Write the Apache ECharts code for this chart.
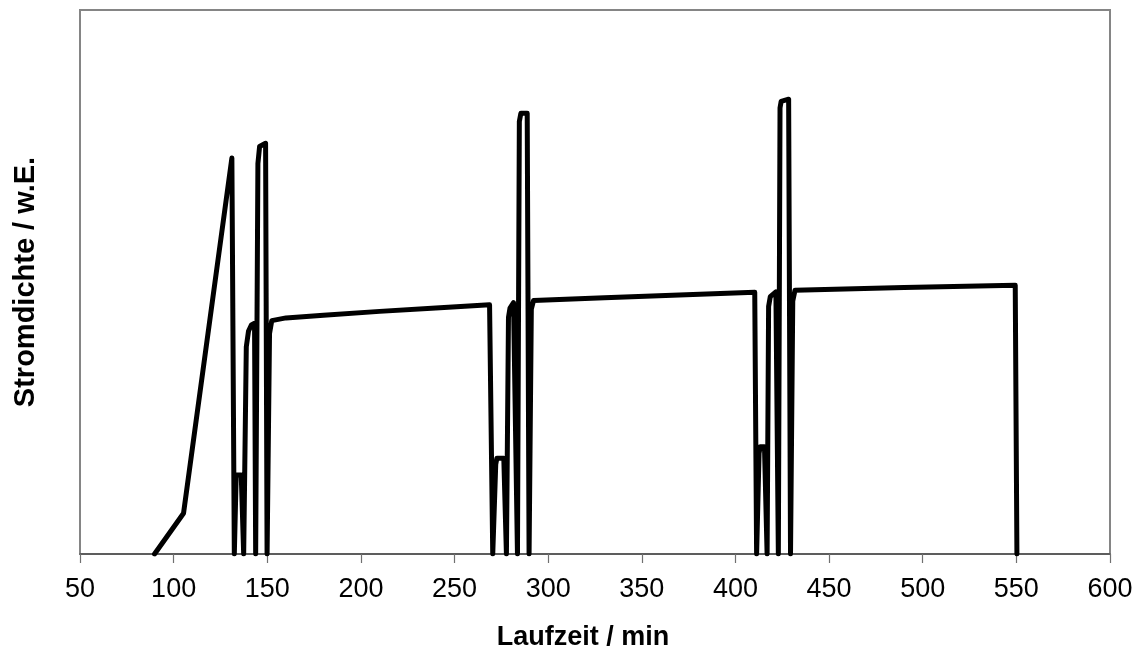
<!DOCTYPE html>
<html>
<head>
<meta charset="utf-8">
<script src="https://cdn.jsdelivr.net/npm/echarts@6/dist/echarts.min.js"></script>
<style>
html,body{margin:0;padding:0;background:#fff;}
#chart{width:1141px;height:662px;}
</style>
</head>
<body>
<div id="chart"></div>
<script>
// Laufzeit (min)
const timeMin = [89.8, 105.3, 131.1, 132.4, 133.4, 136.1, 137.4, 138.8, 140.0, 141.5, 143.2, 143.8, 145.0, 145.9, 149.1, 149.9, 151.2, 152.4, 160, 180, 210, 240, 268.7, 270.4, 272.0, 272.6, 276.3, 277.7, 278.8, 279.6, 281.5, 283.6, 284.6, 285.4, 288.8, 289.8, 291.0, 292.2, 330, 370, 410.3, 411.3, 412.6, 413.2, 415.5, 416.9, 417.7, 418.6, 421.6, 422.9, 423.8, 424.4, 428.4, 429.4, 430.6, 431.8, 490, 549.4, 550.3];
// Stromdichte (w.E.)
const currentDensity = [0, 7.5, 72.8, 0, 14.5, 14.5, 0, 38.1, 41.0, 42.1, 42.4, 0, 71.8, 74.9, 75.5, 0, 40.5, 42.9, 43.4, 43.9, 44.6, 45.2, 45.8, 0, 16.5, 17.6, 17.6, 0, 43.5, 45.2, 46.2, 0, 79.5, 81.0, 81.0, 0, 45.0, 46.6, 47.1, 47.6, 48.1, 0, 18.5, 19.7, 19.7, 0, 45.5, 47.3, 48.2, 0, 82.0, 83.2, 83.6, 0, 46.5, 48.5, 49.0, 49.4, 0];
const xMin = 50, xMax = 600, xStep = 50;
const xTitle = 'Laufzeit / min';
const yTitle = 'Stromdichte / w.E.';

const seriesData = timeMin.map((t, i) => [t, currentDensity[i]]);

const chart = echarts.init(document.getElementById('chart'), null, {renderer: 'canvas'});
chart.setOption({
  animation: false,
  backgroundColor: '#ffffff',
  grid: {
    left: 80, right: 31, top: 10, bottom: 108,
    show: true, borderColor: '#858585', borderWidth: 2, backgroundColor: 'transparent'
  },
  xAxis: {
    type: 'value',
    min: xMin, max: xMax, interval: xStep,
    name: xTitle,
    nameLocation: 'middle',
    nameGap: 70,
    nameTextStyle: {fontFamily: 'Liberation Sans', fontWeight: 'bold', fontSize: 27, color: '#000', padding: [0, 24, 0, 0]},
    axisLine: {show: true, onZero: false, lineStyle: {color: '#505050', width: 1.5}},
    axisTick: {show: true, inside: false, length: 9, lineStyle: {color: '#707070', width: 1.2}},
    axisLabel: {fontFamily: 'Liberation Sans', fontSize: 27, color: '#000', margin: 22},
    splitLine: {show: false}
  },
  yAxis: {
    type: 'value',
    min: 0, max: 100,
    name: yTitle,
    nameLocation: 'middle',
    nameGap: 40,
    nameRotate: 90,
    nameTextStyle: {fontFamily: 'Liberation Sans', fontWeight: 'bold', fontSize: 29, color: '#000'},
    axisLine: {show: true, lineStyle: {color: '#858585', width: 2}},
    axisTick: {show: false},
    axisLabel: {show: false},
    splitLine: {show: false}
  },
  series: [{
    type: 'line',
    data: seriesData,
    showSymbol: false,
    symbol: 'none',
    smooth: false,
    lineStyle: {color: '#000', width: 5, join: 'round', cap: 'round'},
    clip: true
  }]
});
</script>
</body>
</html>
